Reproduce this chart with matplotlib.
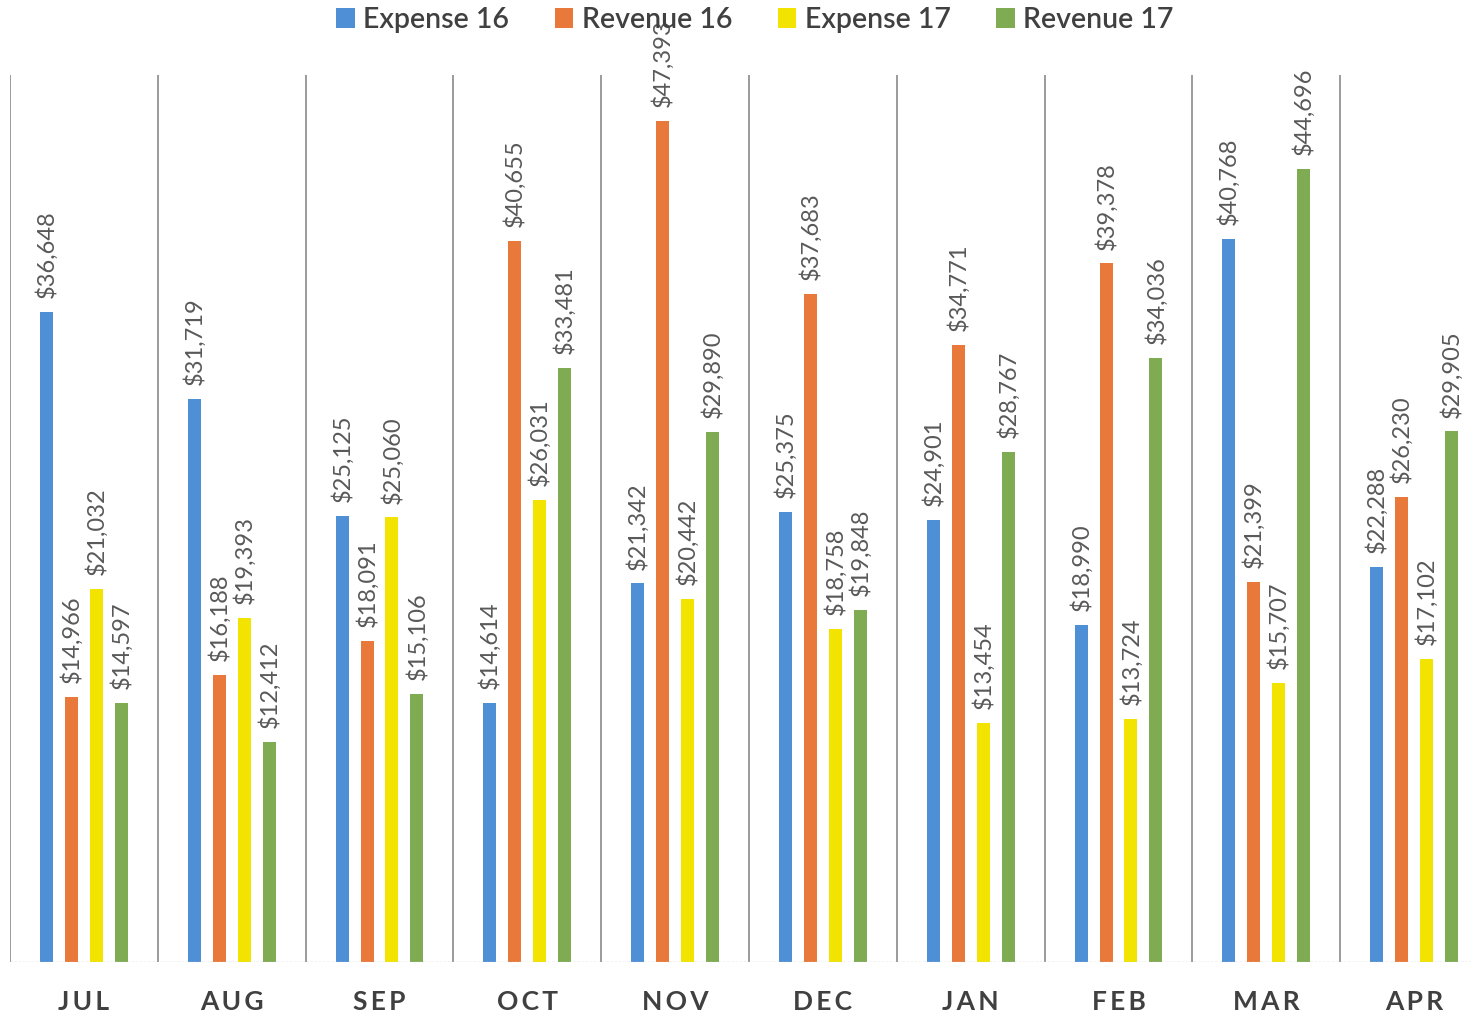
import matplotlib
matplotlib.use("Agg")
import matplotlib.pyplot as plt
import matplotlib.transforms as mtransforms
import numpy as np

plt.rcParams['font.family'] = ['Lato', 'DejaVu Sans']

# data
months = ['JUL', 'AUG', 'SEP', 'OCT', 'NOV', 'DEC', 'JAN', 'FEB', 'MAR', 'APR']
expense_16 = [36648, 31719, 25125, 14614, 21342, 25375, 24901, 18990, 40768, 22288]
revenue_16 = [14966, 16188, 18091, 40655, 47393, 37683, 34771, 39378, 21399, 26230]
expense_17 = [21032, 19393, 25060, 26031, 20442, 18758, 13454, 13724, 15707, 17102]
revenue_17 = [14597, 12412, 15106, 33481, 29890, 19848, 28767, 34036, 44696, 29905]

series_names = ['Expense 16', 'Revenue 16', 'Expense 17', 'Revenue 17']
series = [expense_16, revenue_16, expense_17, revenue_17]
colors = ['#4f8fd6', '#e8793a', '#f2e400', '#7fab52']

fig = plt.figure(figsize=(14.71, 10.17), dpi=100)
ax = fig.add_axes([10 / 1471, 55 / 1017, 1478 / 1471, 887 / 1017])

x = np.arange(len(months))
width = 0.088
step = 0.169
label_color = '#595959'

for i, (name, vals, c) in enumerate(zip(series_names, series, colors)):
    pos = x + (i - 1.5) * step
    ax.bar(pos, vals, width=width, color=c, label=name, zorder=2)
    for px, v in zip(pos, vals):
        ax.annotate('${:,}'.format(v), (px, v), xytext=(0, 10),
                    textcoords='offset points', rotation=90,
                    ha='center', va='bottom', fontsize=17,
                    color=label_color, annotation_clip=False)

# separators between months
for k in range(len(months) + 1):
    ax.axvline(k - 0.5, color='#8a8a8a', lw=1.2, zorder=1)
ax.axhline(0, color='#c8c8c8', lw=1, ls=(0, (2, 1)), zorder=3)

ax.set_xlim(-0.5, len(months) - 0.5)
ax.set_ylim(0, 50000)
ax.set_xticks([])
ax.set_yticks([])
for s in ax.spines.values():
    s.set_visible(False)

trans = mtransforms.blended_transform_factory(ax.transData, fig.transFigure)
for k, m in enumerate(months):
    ax.text(k, 1 - 1002 / 1017, '\u2009'.join(m), transform=trans,
            ha='center', va='center', fontsize=19, fontweight='bold',
            color='#404040')

fig.legend(loc='center', bbox_to_anchor=(755 / 1471, 1 - 20 / 1017), ncol=4,
           frameon=False, fontsize=20.5, handlelength=0.65, handleheight=0.65,
           handletextpad=0.3, columnspacing=1.6, labelcolor='#404040',
           prop={'weight': 'semibold', 'size': 20.5})

fig.savefig('out.png', dpi=100)
